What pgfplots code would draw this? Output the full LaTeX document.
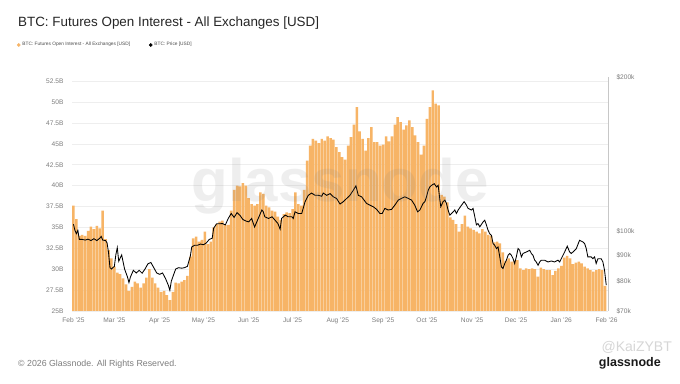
\documentclass[border=0pt]{standalone}
\usepackage{pgfplots}
\pgfplotsset{compat=1.18}
\usepackage{fontspec}
\setmainfont{Liberation Sans}
\definecolor{oi}{RGB}{247,180,102}
\definecolor{tickc}{RGB}{125,125,125}
\definecolor{gridc}{RGB}{238,238,238}

\pgfplotstableread{
day oi
0 37.6
2 36.0
4 34.0
6 34.1
8 34.0
10 34.6
12 35.1
14 34.8
16 35.2
18 34.9
20 37.0
22 33.6
24 32.3
26 31.3
28 30.3
30 29.6
32 29.4
34 28.9
36 28.2
38 27.4
40 27.9
42 28.5
44 28.3
46 27.8
48 28.3
50 29.0
52 30.0
54 29.0
56 28.3
58 27.8
60 27.3
62 27.4
64 26.9
66 26.3
68 27.3
70 28.4
72 28.3
74 28.5
76 28.7
78 29.2
80 31.5
82 33.7
84 33.9
86 33.3
88 33.5
90 34.5
92 33.0
94 33.3
96 35.0
98 35.4
100 35.7
102 35.8
104 35.3
106 35.3
108 37.0
110 39.5
112 40.0
114 39.9
116 40.3
118 40.0
120 38.5
122 37.8
124 37.6
126 37.8
128 39.2
130 39.0
132 37.6
134 37.4
136 37.0
138 36.9
140 36.3
142 35.9
144 36.6
146 36.8
148 36.7
150 37.2
152 39.2
154 37.8
156 37.6
158 39.5
160 43.0
162 44.8
164 45.6
166 45.4
168 45.1
170 45.6
172 45.4
174 45.9
176 45.7
178 45.5
180 44.6
182 44.0
184 43.4
186 43.1
188 44.8
190 45.8
192 47.3
194 49.4
196 46.5
198 45.6
200 44.2
202 45.7
204 47.0
206 45.2
208 45.2
210 44.8
212 44.9
214 45.9
216 45.3
218 45.9
220 47.3
222 48.2
224 47.6
226 46.7
228 47.2
230 47.8
232 47.0
234 46.0
236 45.2
238 43.7
240 44.8
242 48.0
244 49.4
246 51.4
248 49.8
250 49.6
252 38.9
254 38.7
256 38.0
258 36.2
260 35.9
262 35.4
264 34.5
266 35.4
268 36.4
270 35.1
272 34.9
274 34.7
276 34.5
278 34.3
280 34.8
282 34.5
284 34.1
286 34.0
288 33.2
290 33.3
292 33.1
294 32.0
296 31.0
298 31.3
300 30.9
302 31.0
304 31.1
306 30.1
308 29.9
310 30.1
312 30.0
314 30.1
316 30.0
318 29.1
320 30.2
322 30.0
324 29.9
326 29.9
328 29.3
330 29.8
332 30.1
334 30.4
336 31.4
338 31.6
340 31.3
342 30.6
344 30.8
346 30.9
348 30.7
350 30.3
352 30.1
354 29.9
356 29.7
358 29.9
360 30.0
362 29.9
364 28.0
}\oitable

\pgfplotstableread{
day price
0 103300
1 100500
2 99000
3 100500
4 96500
6 96500
8 96200
10 96600
12 96000
14 96800
16 96000
18 97000
19 97800
20 96200
22 96000
23 95000
24 91000
25 85000
26 84500
28 85500
29 90000
30 93000
31 87500
33 90000
35 84500
37 81500
38 79500
39 81500
41 84000
43 83000
45 84000
47 82900
49 84500
51 86500
53 87000
55 85000
57 83000
59 82500
61 83000
63 81000
65 78500
66 76800
67 80000
68 81500
70 84500
72 85000
74 84800
76 85000
78 85500
80 89500
81 93300
83 94000
85 94000
87 94500
89 94200
91 95000
93 96500
95 97000
96 101500
98 103500
100 103500
102 103600
104 103000
106 106000
108 108400
110 106500
112 108800
114 107500
116 105500
118 104800
120 104400
122 106000
124 102000
127 106800
129 110100
130 109200
131 106800
133.5 106000
136 106800
138 105200
140 103600
141.5 101000
142.5 106000
145 107600
147 106800
149.5 106800
150.5 106000
151.7 109200
154 108400
156.3 108400
158.6 114300
160.8 117600
163 118800
165.4 117600
167.7 117600
170 117100
171 118800
173.4 117600
175.7 118500
178 116800
180.2 115900
182.5 113100
184.8 114300
187 115900
189.3 117600
191.6 120300
193.4 122700
195 117600
197.3 116800
199 115100
200.7 113400
203 112500
205.3 111700
207.6 110400
209.8 108400
211.4 108400
213.2 110900
215.5 110100
217.8 110400
220 112500
222.4 115100
224.6 116000
226.9 116800
229.2 116000
231.5 115100
233.7 112500
235.6 109200
237.2 110100
239.4 113400
240.6 114300
241.7 116800
242.9 120300
244 122100
245.2 123000
247 123900
248.6 122100
249.7 123000
250.9 115100
251.5 111700
253.1 114300
254.3 115100
255.4 113400
256.5 110100
257.7 107600
258.8 108400
260 109200
261.1 110100
262.2 108400
263.4 110100
265.7 112500
267.5 114300
269.1 112500
270.2 110900
272.5 110100
273.6 110900
274.8 106800
275.9 103000
277 103600
278.2 102100
280.5 104400
281.6 105200
282.7 103000
283.9 100500
285 99000
286.2 98200
287.3 94700
288.4 94000
289.6 92600
290.7 93300
291.9 89200
293 85300
294.1 84700
295.3 86600
296.4 87900
297.6 89900
298.7 90600
299.8 89900
301 88500
302.1 86600
303.2 89200
304.4 92600
305.5 91900
306.7 89200
307.8 90600
310.1 91200
312.4 91900
313.5 90600
314.6 89900
315.8 87900
316.9 87200
318.1 85900
319.2 87200
320.3 87900
322.6 87900
324.9 87200
327.2 87600
329.4 87200
331.7 87900
332.9 87200
334 88500
336.3 91200
338.1 93600
339.7 91200
340.8 90600
342 91200
344.3 92600
346.5 96100
348.8 95400
350 94700
351.1 92600
352.2 89200
354.5 89200
355.6 88500
356.8 89200
357.9 86600
359.1 88500
361.3 88500
362.5 87200
363.6 84100
364.8 78600
}\pricetable

\begin{document}
\begin{tikzpicture}[x=1pt,y=1pt]
\path[use as bounding box, fill=white] (0,0) rectangle (680,383);

\node[anchor=base west, font=\fontsize{13.4}{15}\selectfont, text=black!85, inner sep=0pt] at (18,356) {BTC: Futures Open Interest - All Exchanges [USD]};

\begin{axis}[
  at={(72pt,72pt)}, anchor=south west,
  scale only axis, width=536pt, height=234pt,
  xmin=-1, xmax=366, ymin=25, ymax=53,
  axis line style={draw=none},
  tick style={draw=none},
  ymajorgrids, grid style={gridc, line width=0.6pt},
  ytick={25,27.5,30,32.5,35,37.5,40,42.5,45,47.5,50,52.5},
  yticklabels={25B,27.5B,30B,32.5B,35B,37.5B,40B,42.5B,45B,47.5B,50B,52.5B},
  xtick={0,28,59,89,120,150,181,212,242,273,303,334,365},
  xticklabels={Feb '25,Mar '25,Apr '25,May '25,Jun '25,Jul '25,Aug '25,Sep '25,Oct '25,Nov '25,Dec '25,Jan '26,Feb '26},
  ticklabel style={font=\fontsize{6.6}{7}\selectfont, text=tickc},
  yticklabel style={xshift=-5pt},
  xticklabel style={yshift=-3pt},
  /pgf/number format/assume math mode=true,
  legend style={at={(-0.1026,1.137)}, anchor=west, draw=none, fill=none,
    font=\fontsize{4.8}{5.5}\selectfont, text=black!70, legend columns=2,
    inner sep=0pt, /tikz/every even column/.append style={column sep=17pt}},
  legend cell align=left,
]
\addlegendimage{only marks, mark=*, mark size=1.6pt, color=oi}
\addlegendentry{BTC: Futures Open Interest - All Exchanges [USD]}
\addlegendimage{only marks, mark=*, mark size=1.6pt, color=black}
\addlegendentry{BTC: Price [USD]}
\addplot[ybar, bar width=1.7, fill=oi, draw=none, forget plot] table[x=day, y=oi] {\oitable};
\end{axis}

\begin{axis}[
  at={(72pt,72pt)}, anchor=south west,
  scale only axis, width=536pt, height=234pt,
  xmin=-1, xmax=366, ymin=70000, ymax=200000,
  ymode=log,
  axis y line*=right,
  axis x line=none,
  y axis line style={draw=black!22, line width=0.8pt},
  tick style={draw=none},
  yminorticks=false,
  ytick={70000,80000,90000,100000,200000},
  yticklabels={\$70k,\$80k,\$90k,\$100k,\$200k},
  ticklabel style={font=\fontsize{6.6}{7}\selectfont, text=tickc},
  yticklabel style={xshift=5pt},
  /pgf/number format/assume math mode=true,
]
\addplot[black, line width=0.85pt] table[x=day, y=price] {\pricetable};
\end{axis}

\node[font=\bfseries\fontsize{60}{62}\selectfont, text=black!50, text opacity=0.13] at (340,197) {glassnode};

\node[anchor=base west, font=\fontsize{8.8}{10}\selectfont, text=tickc, inner sep=0pt] at (18,17) {© 2026 Glassnode. All Rights Reserved.};
\node[anchor=base east, font=\fontsize{14}{16}\selectfont, text=black!16, inner sep=0pt] at (672,31) {@KaiZYBT};
\node[anchor=base east, font=\bfseries\fontsize{12.5}{14}\selectfont, text=black!90, inner sep=0pt] at (661,17) {glassnode};
\end{tikzpicture}
\end{document}
